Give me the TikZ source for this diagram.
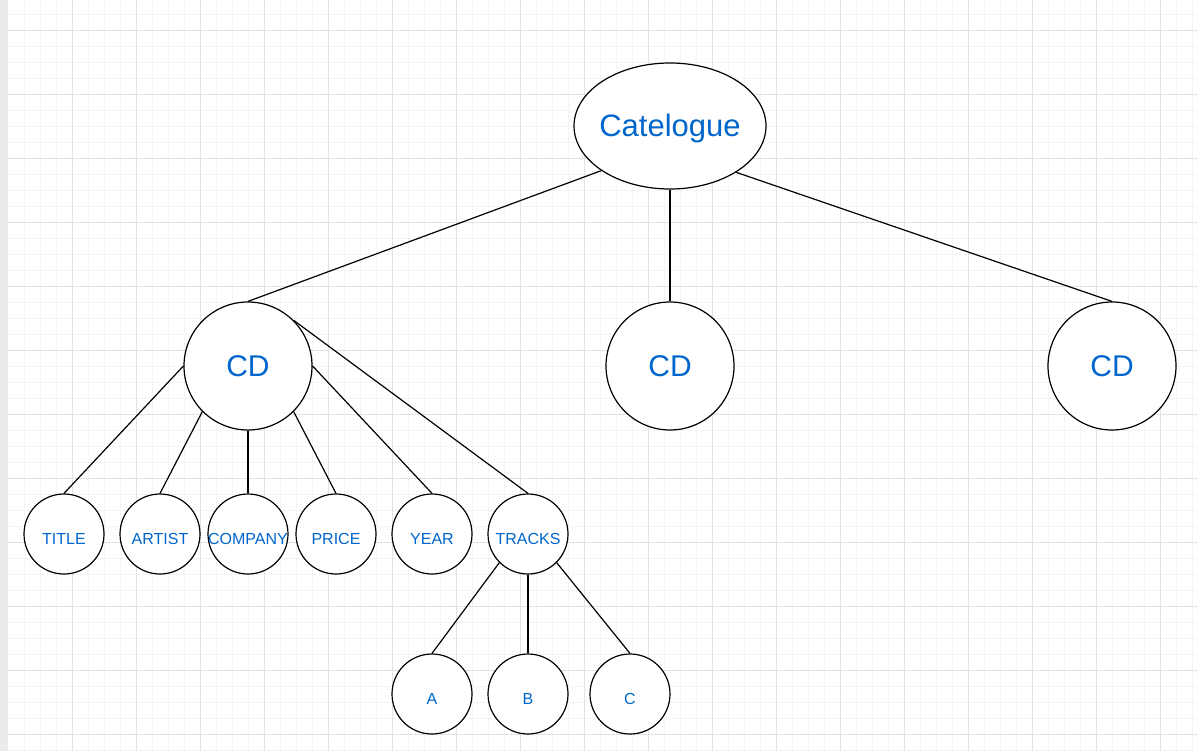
\documentclass[tikz,border=0pt]{standalone}
\usepackage{fontspec}
\setmainfont{Liberation Sans}
\usetikzlibrary{shapes.geometric}
\definecolor{txtblue}{HTML}{0066CC}
\definecolor{gridminor}{HTML}{F4F4F4}
\definecolor{gridmajor}{HTML}{E2E2E2}
\definecolor{sidebar}{HTML}{EBEBEB}
\newcommand{\lowlbl}[1]{\raisebox{-10.7pt}[0pt][0pt]{#1}}
\tikzset{
  bignode/.style={circle,draw=black,fill=white,line width=1.2pt,minimum size=128pt,inner sep=0pt,text=txtblue,font=\fontsize{30}{36}\selectfont},
  smallnode/.style={circle,draw=black,fill=white,line width=1.2pt,minimum size=80pt,inner sep=0pt,text=txtblue,font=\fontsize{16}{19}\selectfont},
  rootnode/.style={ellipse,draw=black,fill=white,line width=1.2pt,minimum width=192pt,minimum height=126pt,inner sep=0pt,text=txtblue,font=\fontsize{31}{37}\selectfont},
  edge/.style={draw=black,line width=1.2pt}
}
\begin{document}
\begin{tikzpicture}[x=1pt,y=-1pt]
\useasboundingbox (0,0) rectangle (1197,751);
\fill[white] (0,0) rectangle (1197,751);
\fill[sidebar] (0,0) rectangle (8,751);
\foreach \x in {24,40,...,1196} \draw[gridminor,line width=0.8pt] (\x,0) -- (\x,751);
\foreach \y in {14,30,...,750} \draw[gridminor,line width=0.8pt] (8,\y) -- (1197,\y);
\foreach \x in {72,136,...,1196} \draw[gridmajor,line width=0.8pt] (\x,0) -- (\x,751);
\foreach \y in {30,94,...,750} \draw[gridmajor,line width=0.8pt] (8,\y) -- (1197,\y);

\node[rootnode] (cat) at (670,126) {\makebox[0pt]{\raisebox{-10.1pt}[0pt][0pt]{Catelogue}}};
\node[bignode] (cd1) at (248,366) {CD};
\node[bignode] (cd2) at (670,366) {CD};
\node[bignode] (cd3) at (1112,366) {CD};
\node[smallnode] (title) at (64,534) {\lowlbl{TITLE}};
\node[smallnode] (artist) at (160,534) {\lowlbl{ARTIST}};
\node[smallnode] (company) at (248,534) {\lowlbl{COMPANY}};
\node[smallnode] (price) at (336,534) {\lowlbl{PRICE}};
\node[smallnode] (year) at (432,534) {\lowlbl{YEAR}};
\node[smallnode] (tracks) at (528,534) {\lowlbl{TRACKS}};
\node[smallnode] (a) at (432,694) {\lowlbl{A}};
\node[smallnode] (b) at (528,694) {\lowlbl{B}};
\node[smallnode] (c) at (630,694) {\lowlbl{C}};

\draw[edge] (cat.213) -- (cd1.north);
\draw[edge] (cat.south) -- (cd2.north);
\draw[edge] (cat.325) -- (cd3.north);
\draw[edge] (cd1.west) -- (title.north);
\draw[edge] (cd1.south west) -- (artist.north);
\draw[edge] (cd1.south) -- (company.north);
\draw[edge] (cd1.south east) -- (price.north);
\draw[edge] (cd1.east) -- (year.north);
\draw[edge] (cd1.north east) -- (tracks.north);
\draw[edge] (tracks.south west) -- (a.north);
\draw[edge] (tracks.south) -- (b.north);
\draw[edge] (tracks.south east) -- (c.north);
\end{tikzpicture}
\end{document}
